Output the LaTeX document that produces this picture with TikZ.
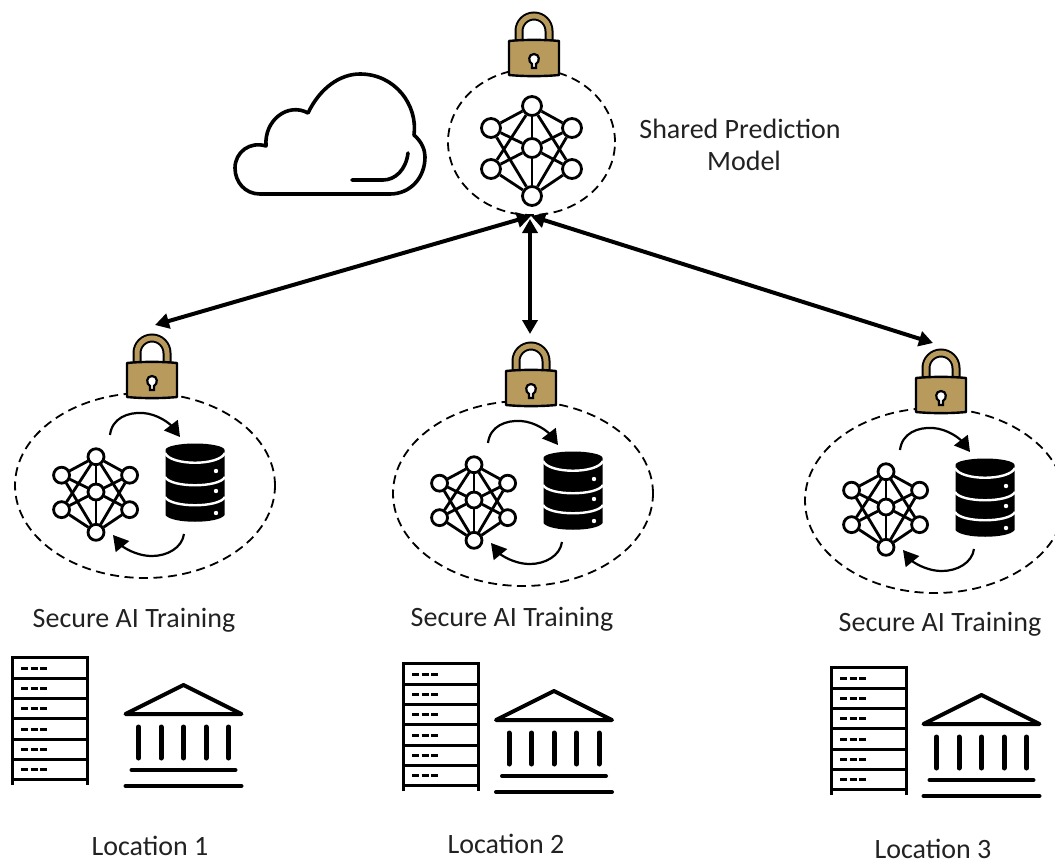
\documentclass[tikz,border=0pt]{standalone}
\usepackage{fontspec}
\setmainfont{Carlito}
\usetikzlibrary{arrows.meta,shapes.geometric}
\definecolor{lockgold}{HTML}{B89A5C}
\definecolor{txt}{HTML}{222222}
\tikzset{
  lbl/.style={font=\fontsize{28}{32}\selectfont,text=txt,inner sep=0pt},
  dashring/.style={draw=black,ellipse,dash pattern=on 9pt off 5.5pt,line width=1.8pt,inner sep=0pt},
  neuron/.style={draw=black,circle,line width=2.8pt,inner sep=0pt,minimum size=19pt,fill=white},
  syn/.style={line width=2.8pt,black},
  bigarrow/.style={line width=4pt,black,{Triangle[length=14pt,width=15pt]}-{Triangle[length=14pt,width=15pt]}},
  looparrow/.style={line width=2.2pt,black,-{Triangle[length=15pt,width=17pt]}},
  lockpic/.pic={
    \draw[black,line width=9pt] (-15,3) -- (-15,-10) arc[start angle=180,end angle=360,radius=15] -- (15,3);
    \draw[lockgold,line width=5pt] (-15,3) -- (-15,-10) arc[start angle=180,end angle=360,radius=15] -- (15,3);
    \draw[black,fill=lockgold,line width=2.4pt,line join=round] (-25,0) .. controls (-10,-1.5) and (10,-1.5) .. (25,0) -- (25,34) .. controls (10,35.5) and (-10,35.5) .. (-25,34) -- cycle;
    \draw[black,fill=white,line width=2.2pt] (-2,27) -- (-2,23) .. controls (-6,21) and (-6,13) .. (0,13) .. controls (6,13) and (6,21) .. (2,23) -- (2,27) -- cycle;
  },
  netpic/.pic={
    \begin{scope}[every node/.append style={transform shape}]
    \node[neuron] (-t) at (0,-42) {};
    \node[neuron] (-b) at (0,48) {};
    \node[neuron] (-ul) at (-41,-20) {};
    \node[neuron] (-ur) at (40,-20) {};
    \node[neuron] (-ll) at (-41,21) {};
    \node[neuron] (-lr) at (40,21) {};
    \node[neuron] (-c) at (0,0) {};
    \end{scope}
    \foreach \a/\b in {t/ul,t/ur,t/c,t/ll,t/lr,b/ll,b/lr,b/c,b/ul,b/ur,ul/c,ur/c,ll/c,lr/c}
      \draw[syn] (-\a) -- (-\b);
  },
  dbpic/.pic={
    \fill[black] (-29.5,-45) arc[start angle=180,end angle=360,x radius=29.5,y radius=6.5] -- (29.5,20) .. controls (24,29) and (-24,29) .. (-29.5,20) -- cycle;
    \foreach \y/\d in {-42/13,-18/11,2/11}
      \draw[white,line width=2.4pt] (-30,\y) .. controls (-24,\y+\d) and (24,\y+\d) .. (30,\y);
    \foreach \y in {-24,-4,18}
      \fill[white] (21,\y) circle[radius=2.2];
  },
  rackpic/.pic={
    \draw[black,line width=3pt] (0,128) -- (0,0) -- (75,0) -- (75,128);
    \foreach \y in {21,41.5,61.5,82,102,122}
      \draw[black,line width=3pt] (0,\y) -- (75,\y);
    \foreach \y in {11,31.5,51.5,72,92,112}
      \draw[black,line width=3pt,dash pattern=on 7pt off 2.5pt] (9,\y) -- (37,\y);
  },
  templepic/.pic={
    \draw[black,line width=4pt,line join=round,line cap=round] (-58,29) -- (0,0) -- (58,29) -- cycle;
    \foreach \x in {-45,-22.5,0,22.5,45}
      \draw[black,line width=5pt,line cap=round] (\x,42) -- (\x,73);
    \draw[black,line width=4pt,line cap=round] (-52,85) -- (52,85);
    \draw[black,line width=4pt,line cap=round] (-58,101) -- (58,101);
  },
  cloudpic/.pic={
    \draw[black,line width=3.6pt,line join=round]
      (260,194) .. controls (245,194) and (235,182) .. (235,168)
      .. controls (235,152) and (250,141) .. (266,146)
      .. controls (264,120) and (288,102) .. (308,113)
      .. controls (320,88) and (340,74) .. (360,74)
      .. controls (395,74) and (418,105) .. (414,135)
      .. controls (422,142) and (425,150) .. (425,157)
      .. controls (425,178) and (410,194) .. (390,194) -- cycle;
    \draw[black,line width=3.6pt,line cap=round] (408,153) .. controls (406,170) and (395,180) .. (383,180) -- (352,180);
  }
}
\newcommand{\secgroup}[4]{% name, dx, dy, lock x
  \node[dashring,minimum width=260pt,minimum height=185pt] (ring#1) at (#2+145,#3+485.5) {};
  \pic at (#4,#3+363) {lockpic};
  \pic[scale=.84] (net#1) at (#2+96,#3+492) {netpic};
  \pic at (#2+195,#3+495) {dbpic};
  \draw[looparrow] (#2+110,#3+435) .. controls (#2+112,#3+418) and (#2+128,#3+412) .. (#2+143,#3+413) .. controls (#2+158,#3+414) and (#2+170,#3+424) .. (#2+180,#3+437);
  \draw[looparrow] (#2+184,#3+534) .. controls (#2+182,#3+548) and (#2+167,#3+556) .. (#2+152,#3+556) .. controls (#2+135,#3+556) and (#2+122,#3+546) .. (#2+113,#3+535);
}
\begin{document}
\begin{tikzpicture}[x=1pt,y=-1pt]
\useasboundingbox (0,0) rectangle (1055,859);
\clip (0,0) rectangle (1055,859);
\fill[white] (0,0) rectangle (1055,859);

\pic at (0,0) {cloudpic};

% shared model
\node[dashring,minimum width=167pt,minimum height=146pt] (ringtop) at (531.5,142) {};
\pic at (534,41) {lockpic};
\pic (nettop) at (532,148) {netpic};
\node[lbl] (sharedA) at (740,129) {Shared Prediction};
\node[lbl] (sharedB) at (744,161) {Model};

% secure groups
\secgroup{A}{0}{0}{152}
\secgroup{B}{378}{8}{531}
\secgroup{C}{790}{15}{941}

\coordinate (tipA) at (155,325);
\coordinate (tipB) at (530,334);
\coordinate (tipC) at (933,343);
\coordinate (hubside) at (531,216);
\coordinate (hubmid) at (530,219);
\draw[bigarrow] (hubside) -- (tipA);
\draw[bigarrow] (hubside) -- (tipC);
\draw[bigarrow] (hubmid) -- (tipB);

\node[lbl] (secA) at (134,620) {Secure AI Training};
\node[lbl] (secB) at (512,619) {Secure AI Training};
\node[lbl] (secC) at (940,624) {Secure AI Training};

\pic at (12,657) {rackpic};
\pic at (403,663) {rackpic};
\pic at (831,667) {rackpic};
\pic at (183.5,685) {templepic};
\pic at (554,691) {templepic};
\pic at (981.5,695) {templepic};

\node[lbl] (locA) at (150,846) {Location 1};
\node[lbl] (locB) at (506,844) {Location 2};
\node[lbl] (locC) at (933,849) {Location 3};
\end{tikzpicture}
\end{document}
